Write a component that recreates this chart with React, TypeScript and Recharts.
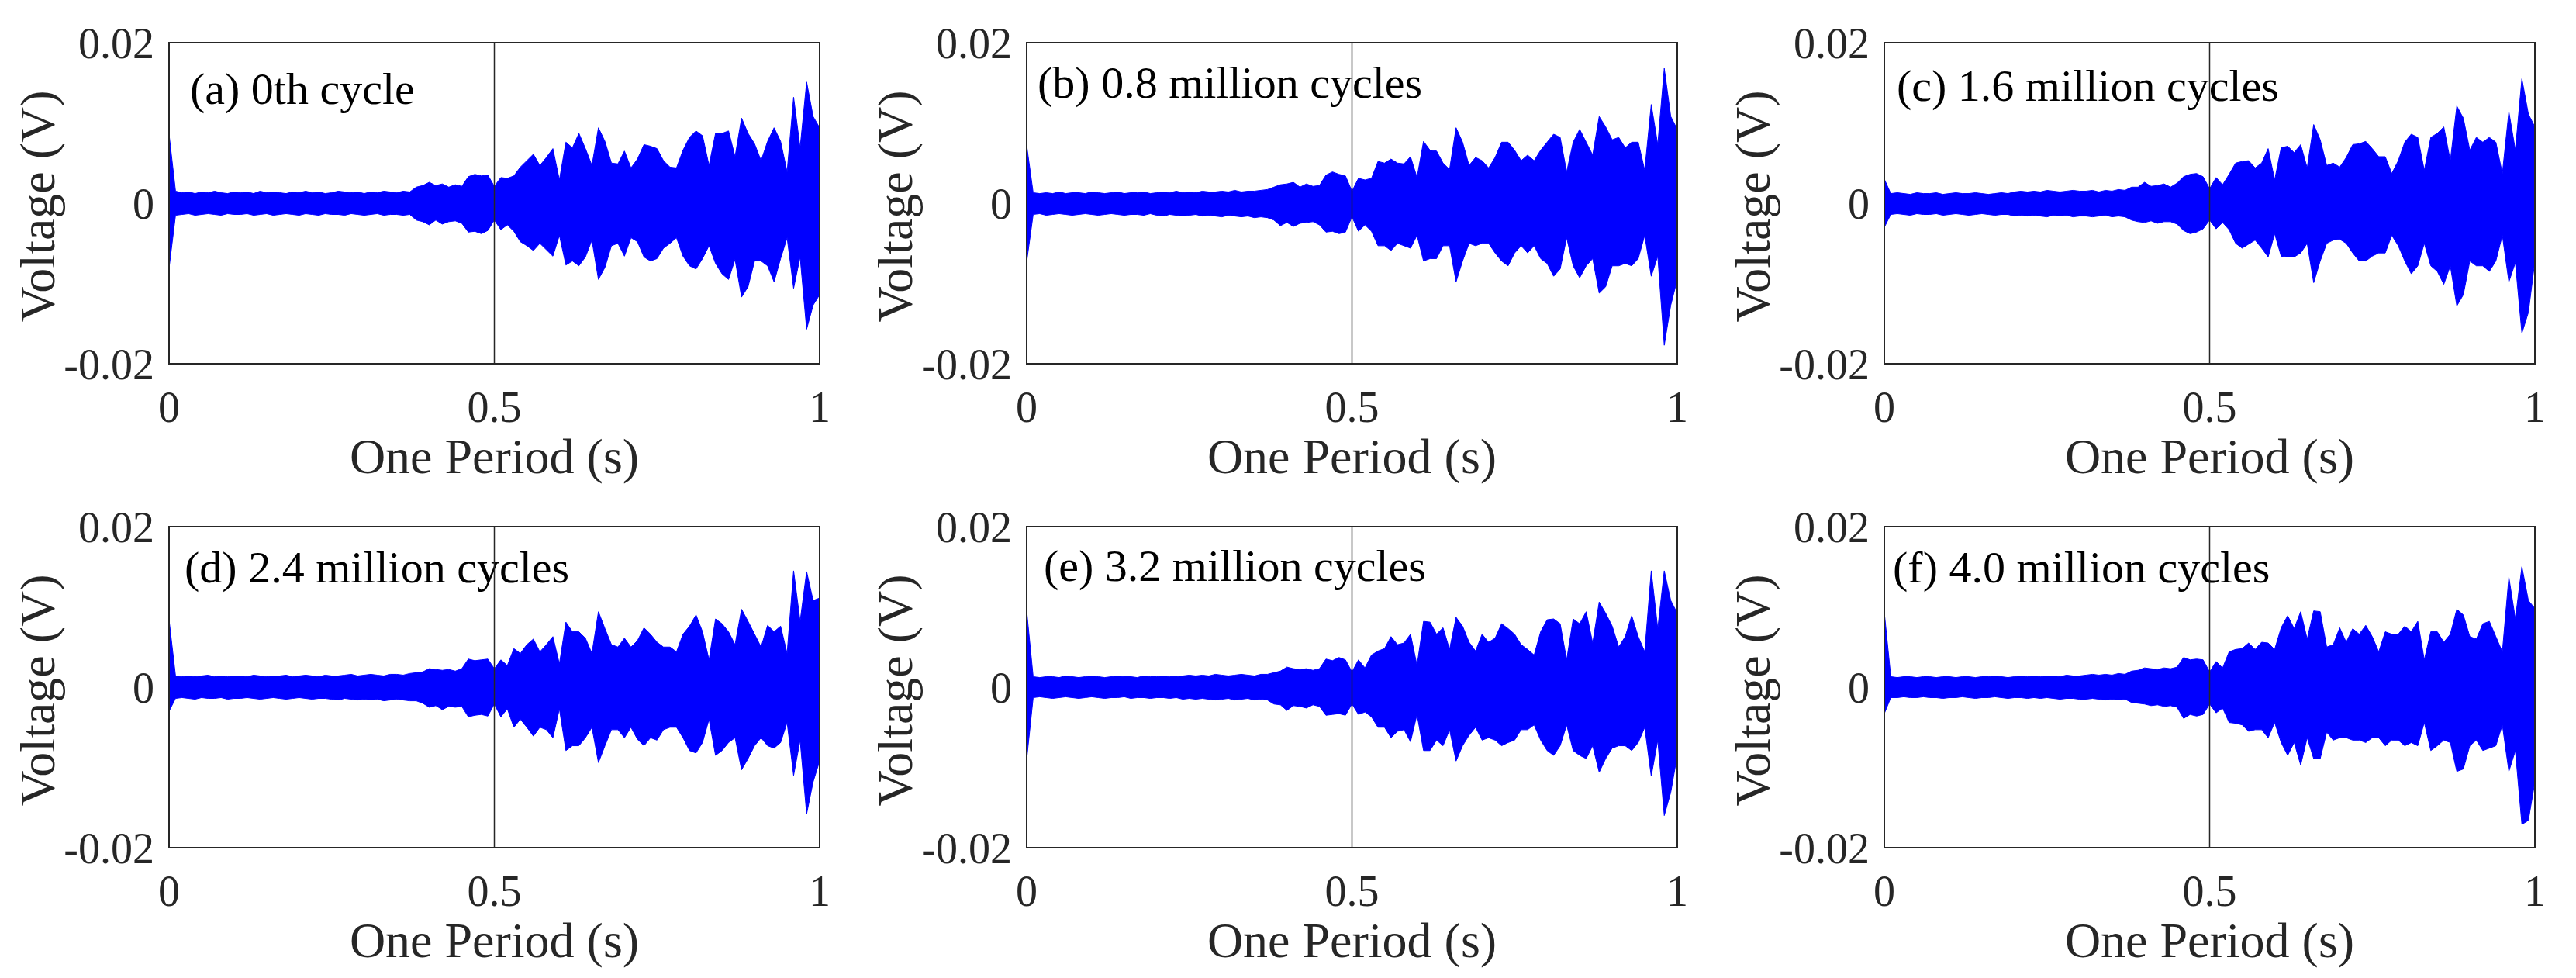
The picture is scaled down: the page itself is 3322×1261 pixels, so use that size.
import React from 'react';
import { AreaChart, Area, XAxis, YAxis, ReferenceLine, ReferenceArea, Label } from 'recharts';

// ---------- data (voltage in mV; axis labels shown in V) ----------
const TIME = [
  0, 0.01, 0.02, 0.03, 0.04, 0.05, 0.06, 0.07, 0.08, 0.09,
  0.1, 0.11, 0.12, 0.13, 0.14, 0.15, 0.16, 0.17, 0.18, 0.19,
  0.2, 0.21, 0.22, 0.23, 0.24, 0.25, 0.26, 0.27, 0.28, 0.29,
  0.3, 0.31, 0.32, 0.33, 0.34, 0.35, 0.36, 0.37, 0.38, 0.39,
  0.4, 0.41, 0.42, 0.43, 0.44, 0.45, 0.46, 0.47, 0.48, 0.49,
  0.5, 0.51, 0.52, 0.53, 0.54, 0.55, 0.56, 0.57, 0.58, 0.59,
  0.6, 0.61, 0.62, 0.63, 0.64, 0.65, 0.66, 0.67, 0.68, 0.69,
  0.7, 0.71, 0.72, 0.73, 0.74, 0.75, 0.76, 0.77, 0.78, 0.79,
  0.8, 0.81, 0.82, 0.83, 0.84, 0.85, 0.86, 0.87, 0.88, 0.89,
  0.9, 0.91, 0.92, 0.93, 0.94, 0.95, 0.96, 0.97, 0.98, 0.99,
  1,
];

const X_TICKS = [0, 0.5, 1];
const X_TICK_LABELS = ['0', '0.5', '1'];
const Y_TICKS = [-20, 0, 20];
const Y_TICK_LABELS = ['-0.02', '0', '0.02'];

const PANEL_TITLES = [
  '(a) 0th cycle',
  '(b) 0.8 million cycles',
  '(c) 1.6 million cycles',
  '(d) 2.4 million cycles',
  '(e) 3.2 million cycles',
  '(f) 4.0 million cycles',
];

const A_HI = [8.6,
  1.5, 1.3, 1.4, 1.2, 1.4, 1.3, 1.5, 1.3, 1.2, 1.4,
  1.3, 1.4, 1.2, 1.5, 1.3, 1.4, 1.3, 1.2, 1.4, 1.3,
  1.5, 1.3, 1.4, 1.2, 1.3, 1.5, 1.4, 1.3, 1.4, 1.2,
  1.4, 1.3, 1.5, 1.4, 1.3, 1.5, 1.4,
  2.0, 2.2, 2.6, 2.2, 2.4, 2.0, 2.3, 2.1, 3.3, 3.6, 3.4, 3.5,
  2.1, 3.2, 3.1, 3.4, 4.5, 5.3, 6.1, 4.7, 5.7, 6.8,
  2.9, 7.6, 6.9, 8.7, 6.8, 4.7, 9.4, 7.7, 5.0, 4.9,
  6.5, 4.4, 5.5, 7.3, 7.1, 6.8, 5.3, 4.5, 4.4, 6.6,
  8.2, 9.0, 8.4, 4.7, 8.7, 8.7, 9.0, 5.8, 10.6, 8.7,
  7.4, 5.3, 7.7, 9.4, 7.7, 3.9, 13.2, 6.9, 15.1, 10.8,
  9.4];
const A_LO = [-8.1,
  -1.5, -1.4, -1.3, -1.5, -1.4, -1.3, -1.4, -1.5, -1.3, -1.4,
  -1.4, -1.3, -1.5, -1.4, -1.3, -1.5, -1.4, -1.3, -1.4, -1.5,
  -1.3, -1.4, -1.5, -1.3, -1.4, -1.4, -1.5, -1.3, -1.4, -1.5,
  -1.4, -1.3, -1.5, -1.4, -1.4, -1.5, -1.4,
  -2.1, -2.3, -2.7, -2.1, -2.6, -2.3, -2.2, -2.5, -3.6, -3.5, -3.8, -3.4,
  -2.1, -3.3, -2.7, -3.5, -4.8, -5.3, -5.9, -5.0, -5.8, -6.6,
  -4.0, -7.7, -7.2, -7.8, -6.7, -4.6, -9.5, -8.0, -5.3, -5.0,
  -6.6, -4.3, -4.8, -6.7, -7.2, -6.9, -5.6, -5.0, -4.3, -6.6,
  -7.8, -8.2, -6.9, -5.3, -7.5, -8.8, -9.5, -7.0, -11.7, -10.4,
  -7.2, -7.2, -7.8, -9.8, -6.9, -4.3, -10.6, -6.7, -15.7, -12.7,
  -11.4];

const B_HI = [7.2,
  1.3, 1.2, 1.3, 1.2, 1.4, 1.2, 1.3, 1.3, 1.2, 1.4,
  1.3, 1.2, 1.3, 1.4, 1.2, 1.3, 1.3, 1.4, 1.2, 1.3,
  1.4, 1.3, 1.5, 1.3, 1.4, 1.3, 1.5, 1.4, 1.4, 1.5,
  1.4, 1.6, 1.4, 1.5, 1.5, 1.6, 1.7,
  2.0, 2.3, 2.4, 2.6, 2.0, 2.4, 2.1, 2.2, 3.5, 3.9, 3.6, 3.4,
  1.5, 3.1, 2.9, 3.1, 5.2, 5.0, 5.5, 5.0, 4.9, 5.8,
  3.2, 7.7, 6.6, 6.5, 5.0, 4.2, 9.4, 7.6, 4.7, 5.7,
  5.3, 4.4, 5.7, 7.6, 7.6, 6.6, 5.3, 6.0, 5.3, 6.6,
  7.6, 8.6, 8.2, 3.9, 7.6, 9.2, 7.6, 6.0, 10.8, 9.5,
  7.9, 8.2, 6.9, 7.6, 7.6, 4.1, 12.3, 7.3, 16.8, 10.8,
  9.2];
const B_LO = [-7.3,
  -1.4, -1.3, -1.5, -1.4, -1.3, -1.4, -1.5, -1.4, -1.3, -1.4,
  -1.5, -1.4, -1.3, -1.4, -1.5, -1.4, -1.4, -1.5, -1.3, -1.5,
  -1.6, -1.4, -1.5, -1.6, -1.5, -1.4, -1.6, -1.5, -1.6, -1.7,
  -1.5, -1.6, -1.7, -1.6, -1.8, -1.7, -1.8,
  -2.1, -2.8, -2.4, -2.9, -2.5, -2.4, -2.3, -2.7, -3.6, -3.5, -3.8, -3.6,
  -1.7, -3.5, -2.7, -3.5, -5.3, -5.3, -5.9, -5.0, -5.3, -5.6,
  -4.0, -7.2, -6.9, -6.9, -5.3, -5.3, -9.8, -7.2, -5.0, -5.3,
  -5.0, -5.0, -6.2, -7.2, -7.8, -6.2, -5.3, -6.2, -5.3, -6.9,
  -7.5, -9.1, -8.2, -4.3, -7.8, -9.3, -7.8, -6.9, -11.2, -10.4,
  -7.8, -7.8, -7.5, -7.8, -6.9, -4.0, -9.1, -6.6, -17.7, -12.7,
  -9.5];

const C_HI = [3.0,
  1.2, 1.3, 1.2, 1.1, 1.3, 1.2, 1.2, 1.3, 1.1, 1.2,
  1.3, 1.2, 1.2, 1.3, 1.2, 1.1, 1.2, 1.3, 1.2, 1.4,
  1.5, 1.4, 1.5, 1.4, 1.6, 1.5, 1.4, 1.5, 1.6, 1.5,
  1.5, 1.6, 1.4, 1.6, 1.5, 1.7, 1.6,
  2.0, 2.0, 2.6, 2.1, 2.2, 2.4, 2.0, 2.5, 3.3, 3.6, 3.7, 3.3,
  1.8, 3.2, 2.3, 3.6, 5.0, 5.2, 5.3, 4.4, 5.0, 6.8,
  2.9, 6.9, 7.1, 6.3, 7.3, 4.4, 9.8, 7.9, 4.7, 5.0,
  4.5, 5.7, 7.3, 7.4, 7.7, 6.8, 5.8, 5.8, 3.7, 5.3,
  7.6, 8.6, 8.2, 4.1, 8.2, 8.7, 9.5, 5.3, 12.1, 10.6,
  6.6, 8.2, 7.6, 8.2, 7.6, 3.7, 11.4, 6.6, 15.5, 11.1,
  9.5];
const C_LO = [-3.0,
  -1.4, -1.3, -1.4, -1.5, -1.3, -1.4, -1.4, -1.3, -1.5, -1.4,
  -1.3, -1.4, -1.5, -1.4, -1.3, -1.4, -1.5, -1.4, -1.4, -1.6,
  -1.5, -1.6, -1.5, -1.6, -1.7, -1.5, -1.6, -1.5, -1.7, -1.6,
  -1.6, -1.7, -1.6, -1.5, -1.7, -1.6, -1.7,
  -2.1, -2.3, -2.4, -2.2, -2.5, -2.3, -2.3, -2.6, -3.4, -3.8, -3.6, -3.2,
  -2.1, -3.2, -2.4, -3.3, -5.0, -5.6, -5.1, -4.6, -5.6, -6.7,
  -3.8, -6.6, -6.7, -6.7, -6.2, -5.0, -9.9, -7.2, -5.0, -4.6,
  -4.5, -5.0, -6.2, -7.2, -7.2, -6.6, -6.2, -6.2, -4.0, -5.3,
  -7.2, -8.8, -7.8, -5.0, -7.8, -8.5, -10.1, -7.8, -12.8, -11.4,
  -7.2, -7.8, -7.8, -8.5, -7.2, -4.0, -9.8, -7.4, -16.2, -13.6,
  -7.2];

const D_HI = [8.4,
  1.4, 1.3, 1.4, 1.3, 1.4, 1.5, 1.3, 1.4, 1.3, 1.4,
  1.4, 1.3, 1.5, 1.4, 1.3, 1.4, 1.4, 1.5, 1.3, 1.4,
  1.5, 1.4, 1.3, 1.5, 1.4, 1.4, 1.5, 1.6, 1.4, 1.5,
  1.6, 1.5, 1.4, 1.6, 1.6, 1.5, 1.7,
  1.8, 1.9, 2.3, 2.2, 2.1, 2.2, 2.0, 2.3, 3.5, 3.3, 3.4, 3.5,
  2.3, 3.4, 2.7, 4.8, 4.2, 5.3, 6.0, 4.4, 5.3, 6.3,
  2.9, 8.1, 6.9, 6.9, 6.1, 4.2, 9.4, 7.3, 5.3, 5.0,
  6.1, 5.0, 5.8, 7.4, 6.6, 5.6, 5.0, 5.0, 4.4, 6.6,
  7.6, 9.0, 6.9, 3.4, 8.5, 7.9, 6.9, 5.3, 9.7, 8.2,
  6.6, 5.0, 7.7, 6.9, 7.6, 4.2, 14.5, 8.2, 14.4, 10.8,
  11.1];
const D_LO = [-3.0,
  -1.4, -1.3, -1.4, -1.5, -1.3, -1.4, -1.4, -1.3, -1.5, -1.4,
  -1.4, -1.3, -1.4, -1.5, -1.4, -1.3, -1.4, -1.5, -1.4, -1.3,
  -1.4, -1.5, -1.4, -1.4, -1.5, -1.6, -1.4, -1.5, -1.6, -1.5,
  -1.6, -1.5, -1.7, -1.6, -1.5, -1.6, -1.7,
  -1.7, -2.0, -2.5, -2.3, -2.8, -2.4, -2.5, -2.4, -3.7, -3.5, -3.4, -3.6,
  -2.1, -3.7, -2.7, -5.0, -4.0, -5.0, -6.1, -5.0, -5.3, -6.3,
  -2.7, -7.9, -7.3, -7.3, -6.3, -5.0, -9.4, -7.3, -5.3, -5.3,
  -6.3, -5.0, -6.5, -7.3, -6.3, -6.6, -5.3, -5.0, -5.0, -6.3,
  -7.9, -8.2, -6.9, -4.0, -8.5, -7.9, -6.9, -6.3, -10.3, -8.9,
  -7.3, -6.3, -7.3, -7.6, -6.9, -4.4, -11.0, -6.6, -15.8, -11.8,
  -9.2];

const E_HI = [9.5,
  1.3, 1.2, 1.3, 1.3, 1.2, 1.4, 1.3, 1.2, 1.3, 1.4,
  1.3, 1.2, 1.3, 1.4, 1.3, 1.3, 1.2, 1.4, 1.3, 1.3,
  1.4, 1.3, 1.3, 1.4, 1.5, 1.4, 1.5, 1.4, 1.6, 1.5,
  1.4, 1.5, 1.6, 1.5, 1.4, 1.6, 1.6,
  1.8, 2.0, 2.5, 2.3, 2.2, 2.3, 2.1, 2.3, 3.5, 3.3, 3.7, 3.4,
  1.9, 3.4, 2.4, 4.0, 4.5, 4.8, 6.3, 5.3, 5.5, 6.6,
  2.7, 8.2, 8.1, 6.6, 7.4, 4.7, 8.7, 7.6, 5.6, 4.5,
  6.6, 5.6, 6.1, 7.9, 7.3, 6.6, 5.3, 4.7, 4.0, 6.9,
  8.4, 8.5, 7.9, 3.4, 8.5, 7.9, 9.4, 5.5, 10.6, 9.2,
  7.6, 5.0, 6.3, 8.9, 6.3, 4.4, 14.5, 7.3, 14.5, 10.8,
  9.2];
const E_LO = [-9.0,
  -1.3, -1.2, -1.3, -1.4, -1.3, -1.2, -1.3, -1.4, -1.3, -1.2,
  -1.3, -1.4, -1.3, -1.3, -1.2, -1.4, -1.3, -1.3, -1.4, -1.3,
  -1.3, -1.4, -1.3, -1.5, -1.4, -1.5, -1.4, -1.5, -1.6, -1.5,
  -1.4, -1.6, -1.5, -1.4, -1.6, -1.5, -1.6,
  -2.1, -2.2, -2.9, -2.3, -2.4, -2.6, -2.2, -2.4, -3.5, -3.4, -3.3, -3.5,
  -2.1, -3.4, -3.1, -3.7, -5.0, -5.0, -6.3, -5.5, -5.3, -6.8,
  -3.4, -7.9, -7.9, -6.6, -7.3, -5.3, -9.2, -7.3, -6.0, -5.0,
  -6.6, -6.3, -6.6, -7.3, -6.9, -6.6, -5.3, -5.3, -4.7, -6.6,
  -7.9, -8.5, -7.3, -4.7, -7.9, -8.5, -8.9, -7.3, -10.6, -8.9,
  -7.6, -7.3, -7.3, -7.9, -6.9, -5.0, -11.1, -6.6, -16.0, -13.1,
  -8.5];

const F_HI = [9.3,
  1.3, 1.2, 1.3, 1.3, 1.2, 1.3, 1.3, 1.2, 1.3, 1.3,
  1.2, 1.3, 1.3, 1.2, 1.3, 1.3, 1.4, 1.3, 1.2, 1.3,
  1.4, 1.3, 1.4, 1.3, 1.4, 1.4, 1.3, 1.5, 1.4, 1.4,
  1.5, 1.6, 1.5, 1.6, 1.5, 1.7, 1.6,
  2.0, 2.1, 2.4, 2.3, 2.2, 2.4, 2.3, 2.5, 3.7, 3.4, 3.5, 3.4,
  1.9, 3.2, 2.4, 4.4, 4.7, 4.8, 5.5, 4.7, 5.6, 5.5,
  4.7, 7.4, 8.9, 7.3, 9.4, 6.0, 9.5, 9.4, 5.0, 5.3,
  7.4, 5.6, 7.3, 6.6, 7.7, 6.3, 4.4, 6.9, 6.6, 6.6,
  7.6, 6.9, 8.2, 3.4, 6.9, 6.9, 5.6, 6.6, 9.7, 9.0,
  6.3, 6.0, 7.9, 8.2, 6.3, 4.4, 13.7, 8.5, 15.0, 10.8,
  9.8];
const F_LO = [-3.3,
  -1.3, -1.3, -1.2, -1.3, -1.3, -1.2, -1.3, -1.3, -1.4, -1.3,
  -1.3, -1.2, -1.3, -1.4, -1.3, -1.3, -1.2, -1.3, -1.4, -1.3,
  -1.3, -1.4, -1.3, -1.4, -1.3, -1.4, -1.5, -1.4, -1.4, -1.5,
  -1.5, -1.4, -1.5, -1.6, -1.5, -1.6, -1.5,
  -1.9, -2.0, -2.1, -2.3, -2.2, -2.4, -2.3, -2.5, -3.9, -3.4, -3.6, -3.4,
  -2.1, -3.2, -2.6, -4.4, -4.5, -4.7, -5.5, -5.3, -5.3, -6.3,
  -4.4, -6.9, -8.5, -6.9, -9.7, -6.3, -8.9, -8.9, -5.6, -6.6,
  -6.3, -6.3, -6.6, -6.6, -6.9, -6.3, -6.3, -7.3, -6.6, -6.6,
  -7.3, -6.9, -7.3, -4.4, -7.9, -7.3, -6.6, -6.9, -10.5, -10.2,
  -7.3, -6.6, -7.9, -7.6, -7.3, -4.7, -10.5, -7.9, -17.1, -16.6,
  -11.8];

// ---------- layout / style ----------
const FONT = '"Liberation Serif", "Times New Roman", serif';
const INK = '#262626';
const BLUE = '#0000FF';

const PLOT_W = 839;
const PLOT_H = 414;
const AXIS_W = 218;
const TOP_M = 55;
const RIGHT_M = 40;
const XAXIS_H = 170;

const PANELS = [
  { title: PANEL_TITLES[0], hi: A_HI, lo: A_LO, left: 218, top: 55, tx: 27, ty: 79 },
  { title: PANEL_TITLES[1], hi: B_HI, lo: B_LO, left: 1324, top: 55, tx: 14, ty: 71 },
  { title: PANEL_TITLES[2], hi: C_HI, lo: C_LO, left: 2430, top: 55, tx: 16, ty: 75 },
  { title: PANEL_TITLES[3], hi: D_HI, lo: D_LO, left: 218, top: 679, tx: 20, ty: 72 },
  { title: PANEL_TITLES[4], hi: E_HI, lo: E_LO, left: 1324, top: 679, tx: 22, ty: 70 },
  { title: PANEL_TITLES[5], hi: F_HI, lo: F_LO, left: 2430, top: 679, tx: 11, ty: 72 },
];

const fmtX = (v: number) => {
  const i = X_TICKS.indexOf(v);
  return i >= 0 ? X_TICK_LABELS[i] : String(v);
};
const fmtY = (v: number) => {
  const i = Y_TICKS.indexOf(v);
  return i >= 0 ? Y_TICK_LABELS[i] : String(v);
};

function Panel({ p }: { p: any }) {
  const data = TIME.map((t, i) => ({ t, band: [p.lo[i], p.hi[i]] }));
  const cw = AXIS_W + PLOT_W + RIGHT_M;
  const ch = TOP_M + PLOT_H + XAXIS_H;
  return (
    <div style={{ position: 'absolute', left: p.left - AXIS_W, top: p.top - TOP_M, width: cw, height: ch }}>
      <AreaChart width={cw} height={ch} data={data} margin={{ top: TOP_M, right: RIGHT_M, bottom: 0, left: 0 }}>
        <XAxis
          dataKey="t"
          type="number"
          domain={[0, 1]}
          ticks={X_TICKS}
          interval={0}
          allowDataOverflow
          tickFormatter={fmtX}
          axisLine={false}
          tickLine={false}
          tickSize={0}
          tickMargin={35}
          height={XAXIS_H}
          tick={{ fill: INK, fontSize: 56, fontFamily: FONT }}
        >
          <Label
            content={() => (
              <text
                x={AXIS_W + PLOT_W / 2}
                y={TOP_M + PLOT_H + 141}
                textAnchor="middle"
                fill={INK}
                fontSize={64}
                fontFamily={FONT}
              >
                One Period (s)
              </text>
            )}
          />
        </XAxis>
        <YAxis
          type="number"
          domain={[-20, 20]}
          ticks={Y_TICKS}
          interval={0}
          allowDataOverflow
          tickFormatter={fmtY}
          axisLine={false}
          tickLine={false}
          tickSize={0}
          tickMargin={19}
          width={AXIS_W}
          tick={{ fill: INK, fontSize: 56, fontFamily: FONT }}
        >
          <Label
            content={() => {
              const px = AXIS_W - 148;
              const py = TOP_M + PLOT_H / 2 + 4;
              return (
                <text
                  x={px}
                  y={py}
                  transform={`rotate(-90, ${px}, ${py})`}
                  textAnchor="middle"
                  fill={INK}
                  fontSize={64}
                  fontFamily={FONT}
                >
                  Voltage (V)
                </text>
              );
            }}
          />
        </YAxis>
        <ReferenceLine x={0.5} stroke={INK} strokeWidth={1.5} />
        <Area
          type="linear"
          dataKey="band"
          stroke={BLUE}
          strokeWidth={1}
          fill={BLUE}
          fillOpacity={1}
          isAnimationActive={false}
          dot={false}
          activeDot={false}
        />
        <ReferenceArea
          x1={0}
          x2={1}
          y1={-20}
          y2={20}
          fill="none"
          fillOpacity={0}
          stroke={INK}
          strokeWidth={2}
          label={() => (
            <text x={AXIS_W + p.tx} y={TOP_M + p.ty} fill="#000" fontSize={58} fontFamily={FONT}>
              {p.title}
            </text>
          )}
        />
      </AreaChart>
    </div>
  );
}

export default function App() {
  return (
    <div style={{ position: 'absolute', left: 0, top: 0, width: 3322, height: 1261, background: '#fff', overflow: 'hidden' }}>
      {PANELS.map((p, i) => (
        <Panel key={i} p={p} />
      ))}
    </div>
  );
}
